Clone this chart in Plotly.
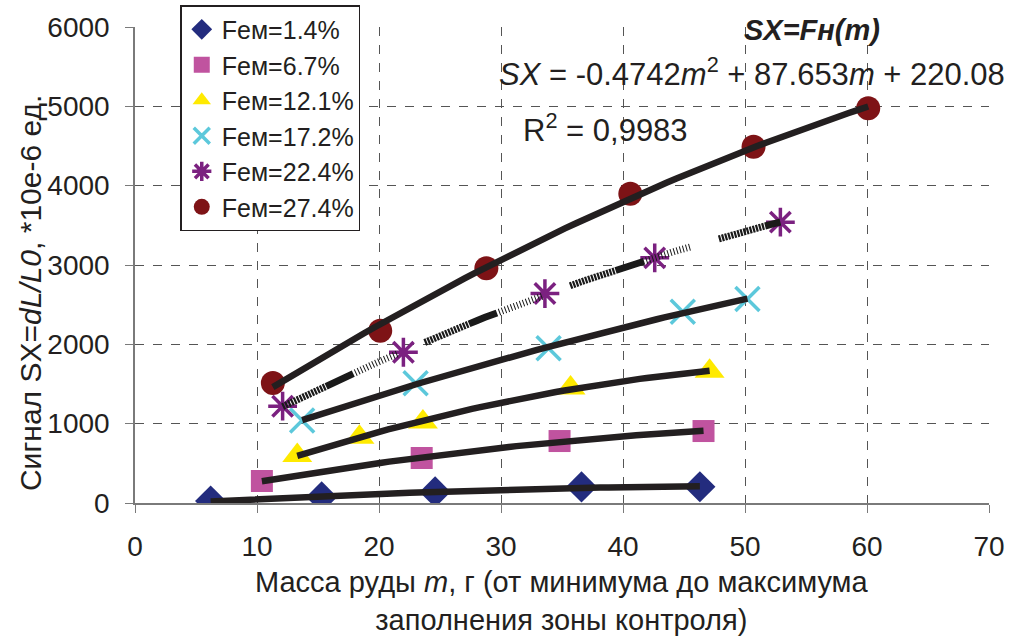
import numpy as np
import plotly.graph_objects as go

series_names = ["Fем=1.4%", "Fем=6.7%", "Fем=12.1%", "Fем=17.2%", "Fем=22.4%", "Fем=27.4%"]

m_fe14 = [6.2, 15.3, 24.6, 36.6, 46.3]
sx_fe14 = [25, 76, 139, 202, 205]

m_fe67 = [10.4, 23.5, 34.8, 46.6]
sx_fe67 = [277, 567, 781, 907]

m_fe121 = [13.3, 18.4, 23.6, 35.7, 47.1]
sx_fe121 = [600, 830, 1020, 1450, 1660]

m_fe172 = [13.7, 23.0, 33.9, 44.9, 50.2]
sx_fe172 = [1040, 1510, 1950, 2410, 2570]

m_fe224 = [12.1, 22.0, 33.6, 42.6, 52.9]
sx_fe224 = [1220, 1900, 2640, 3090, 3540]

m_fe274 = [11.3, 20.1, 28.8, 40.6, 50.7, 60.1]
sx_fe274 = [1513, 2170, 2960, 3897, 4490, 4975]

xs = [m_fe14, m_fe67, m_fe121, m_fe172, m_fe224, m_fe274]
ys = [sx_fe14, sx_fe67, sx_fe121, sx_fe172, sx_fe224, sx_fe274]

x_ticks = [0, 10, 20, 30, 40, 50, 60, 70]
y_ticks = [0, 1000, 2000, 3000, 4000, 5000, 6000]

colors = ["#232C7E", "#C0539F", "#FFEA00", "#5CC8DB", "#7B2180", "#7E1316"]
symbols = ["diamond", "square", "triangle-up", "x-thin-open", "asterisk-open", "circle"]
sizes = [24, 22, 26, 24, 24, 24]

FONT = "Liberation Sans, Arial, sans-serif"
TXT = "#231F20"

fig = go.Figure()

for name, x, y, c, s, sz in zip(series_names, xs, ys, colors, symbols, sizes):
    if s.endswith("open"):
        marker = dict(symbol=s, size=sz, color=c, line=dict(color=c, width=3.5))
    else:
        marker = dict(symbol=s, size=sz, color=c, line=dict(width=0))
    fig.add_trace(go.Scatter(x=x, y=y, mode="markers", name=name, marker=marker))

hatch = ",".join(["2.2px,1px"] * 15) + ",30px"
for i, (x, y) in enumerate(zip(xs, ys)):
    coef = np.polyfit(x, y, 2)
    xf = np.linspace(min(x), max(x), 60)
    yf = np.polyval(coef, xf)
    if i == 4:
        line = dict(color="#1a1a1a", width=7, dash=hatch)
    else:
        line = dict(color=TXT, width=6.5)
    fig.add_trace(go.Scatter(x=xf, y=yf, mode="lines", line=line, showlegend=False, hoverinfo="skip"))

fig.update_xaxes(
    range=[0, 70], tickvals=x_ticks, ticktext=[str(v) for v in x_ticks],
    showline=True, linecolor="#7a7a7a", linewidth=1.5,
    ticks="outside", ticklen=8, tickcolor="#7a7a7a", ticklabelstandoff=10,
    showgrid=True, gridcolor="#555555", gridwidth=1, griddash="dash",
    zeroline=False, automargin=False,
    tickfont=dict(family=FONT, size=28, color=TXT),
)
fig.update_yaxes(
    range=[0, 6000], tickvals=y_ticks, ticktext=[str(v) for v in y_ticks],
    showline=True, linecolor="#7a7a7a", linewidth=1.5,
    ticks="outside", ticklen=8, tickcolor="#7a7a7a", ticklabelstandoff=10,
    showgrid=True, gridcolor="#555555", gridwidth=1, griddash="dash",
    zeroline=False, automargin=False,
    tickfont=dict(family=FONT, size=28, color=TXT),
)

fig.update_layout(
    width=1012, height=642,
    margin=dict(l=135, r=23, t=27, b=139, autoexpand=False),
    paper_bgcolor="white", plot_bgcolor="white",
    font=dict(family=FONT, size=28, color=TXT),
    legend=dict(x=0.053, y=1.046, xanchor="left", yanchor="top",
                bgcolor="white", bordercolor=TXT, borderwidth=1.5,
                font=dict(family=FONT, size=25, color=TXT),
                tracegroupgap=0, itemsizing="trace"),
    annotations=[
        dict(text="<b><i>SX=Fн(m)</i></b>", xref="paper", yref="paper", x=0.793, y=0.994,
             xanchor="center", yanchor="middle", showarrow=False,
             font=dict(family=FONT, size=29, color=TXT)),
        dict(text="<i>SX</i> = -0.4742<i>m</i><sup>2</sup> + 87.653<i>m</i> + 220.08",
             xref="paper", yref="paper", x=0.424, y=0.905,
             xanchor="left", yanchor="middle", showarrow=False,
             font=dict(family=FONT, size=31, color=TXT)),
        dict(text="R<sup>2</sup> = 0,9983", xref="paper", yref="paper", x=0.452, y=0.788,
             xanchor="left", yanchor="middle", showarrow=False,
             font=dict(family=FONT, size=31, color=TXT)),
        dict(text="Масса руды <i>m</i>, г (от минимума до максимума<br>заполнения зоны контроля)",
             xref="paper", yref="paper", x=0.5, y=-0.206,
             xanchor="center", yanchor="middle", showarrow=False,
             font=dict(family=FONT, size=29, color=TXT)),
        dict(text="Сигнал SX=<i>dL/L0</i>, *10e-6 ед.", textangle=-90,
             xref="paper", yref="paper", x=-0.123, y=0.441,
             xanchor="center", yanchor="middle", showarrow=False,
             font=dict(family=FONT, size=30, color=TXT)),
    ],
)

fig.write_html("out.html", config={"displayModeBar": False},
               post_script="document.body.style.margin='0';document.body.style.padding='0';")
